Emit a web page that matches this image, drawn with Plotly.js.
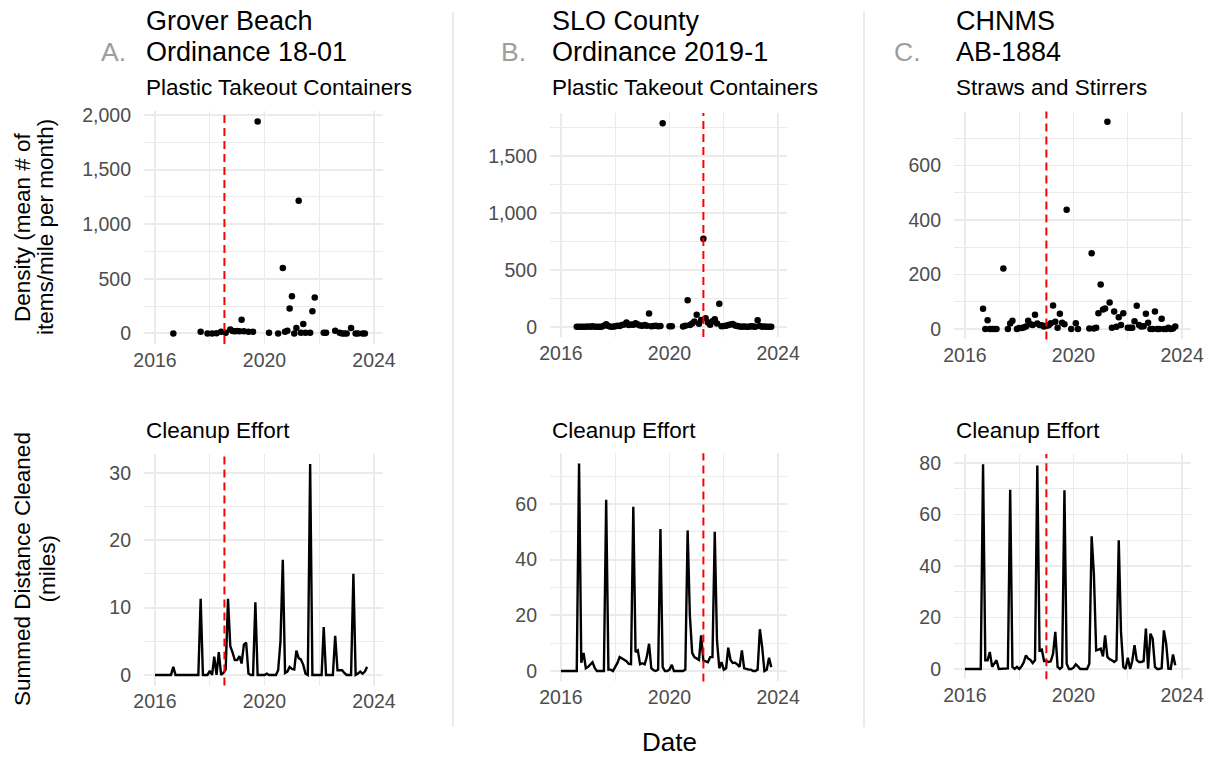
<!DOCTYPE html>
<html>
<head>
<meta charset="utf-8">
<script src="https://cdn.plot.ly/plotly-3.0.1.min.js"></script>
<style>html,body{margin:0;padding:0;background:#fff;}#chart{width:1211px;height:758px;}</style>
</head>
<body>
<div id="chart"></div>
<script>
// ---------- DATA ----------
const months = [
"2016-01","2016-02","2016-03","2016-04","2016-05","2016-06","2016-07","2016-08","2016-09","2016-10","2016-11","2016-12",
"2017-01","2017-02","2017-03","2017-04","2017-05","2017-06","2017-07","2017-08","2017-09","2017-10","2017-11","2017-12",
"2018-01","2018-02","2018-03","2018-04","2018-05","2018-06","2018-07","2018-08","2018-09","2018-10","2018-11","2018-12",
"2019-01","2019-02","2019-03","2019-04","2019-05","2019-06","2019-07","2019-08","2019-09","2019-10","2019-11","2019-12",
"2020-01","2020-02","2020-03","2020-04","2020-05","2020-06","2020-07","2020-08","2020-09","2020-10","2020-11","2020-12",
"2021-01","2021-02","2021-03","2021-04","2021-05","2021-06","2021-07","2021-08","2021-09","2021-10","2021-11","2021-12",
"2022-01","2022-02","2022-03","2022-04","2022-05","2022-06","2022-07","2022-08","2022-09","2022-10","2022-11","2022-12",
"2023-01","2023-02","2023-03","2023-04","2023-05","2023-06","2023-07","2023-08","2023-09","2023-10"
];

// Density (mean # of items/mile per month)
const densityA = [
null,null,null,null,null,null,null,null,0,null,
null,null,null,null,null,null,null,null,null,null,
15,null,null,0,null,0,null,2,null,15,
null,5,null,35,22,20,22,20,125,20,
null,15,null,15,null,1940,null,null,null,null,
5,null,null,null,0,null,600,15,25,227,
340,0,49,1215,5,86,5,null,5,202,
328,null,null,null,5,5,null,null,null,25,
null,5,0,0,0,null,50,null,0,0,
null,0,0,null
];
const densityB = [
null,null,null,null,null,null,null,0,0,0,
0,0,2,0,5,0,0,0,0,10,
23,8,0,0,5,10,8,15,20,38,
15,20,18,32,20,12,10,15,10,117,
5,8,10,5,8,1790,null,null,5,5,
null,null,null,null,2,10,234,17,30,47,
105,26,60,775,76,38,18,50,67,30,
202,5,8,10,15,20,25,12,8,2,
0,2,0,0,5,2,0,58,8,0,
2,0,0,0
];
const densityC = [
null,null,null,null,null,null,null,null,74,0,
32,0,0,0,0,null,null,222,null,0,
20,30,null,0,4,4,6,9,30,18,
15,52,20,15,14,9,12,14,21,86,
27,5,56,23,18,438,null,0,null,21,
0,null,null,null,null,2,278,2,5,58,
163,72,75,760,97,5,64,8,43,15,
58,null,5,5,5,29,85,15,9,10,
56,23,0,0,64,0,0,38,0,0,
5,0,2,9
];

// Summed distance cleaned (miles)
const cleanupA = [
0,0,0,0,0,0,0,0,1.2,0,
0,0,0,0,0,0,0,0,0,0,
11.3,0,0,0,0.6,0,2.7,0,3.4,0,
0.3,0.8,11.3,4.3,3.3,2.2,2.2,2.8,1.7,4.5,
4.8,0.2,0,0,10.8,0,0,0,0,0.2,
0,0,0,0,0.7,5,17.1,0.3,0.5,1.2,
0.9,0.8,3.6,2.5,2.3,1.5,0.2,0,31.3,0,
0,0,0,0,7.1,0,0,0,0,5.8,
0.7,0.7,0.7,0.3,0,0,0,15,0,0.2,
0.5,0.2,0.5,1.2
];
const cleanupB = [
0,0,0,0,0,0,0,0,74.5,3,
6.5,1,1.5,2.6,3.2,1,0,0,0,0,
61.5,0.5,0.5,0,1.5,3,5,4.5,4.3,3.5,
2.6,2.5,59,6.8,7.4,2.4,2.8,2.4,5,9.8,
1,0.3,0,0.5,51,1.4,0,0,0.5,2.2,
0,0,0,0,0,0.5,50.5,20,6.5,5,
4.4,4,12.8,3.8,3.5,3.2,5,5,50,11,
1,3.2,0.5,1,8.4,4,2.9,3,2.4,1.5,
7.4,1,0.8,0.5,0.5,0,0,0.5,15,8.6,
0,0.5,4.8,1.4
];
const cleanupC = [
0,0,0,0,0,0,0,0,79.5,3.4,
3.4,6.6,0.8,2,3.4,0,0,0,0,0.2,
69.6,0.8,0,0.8,0,1,2.5,5.3,4,3.5,
2.3,3.4,79,7.2,7.5,3.1,3.1,2.7,3,6,
14.4,0.8,0,0.8,69.4,2,0,0,0.5,1.8,
1,0,0,0,0,2,51.5,37,7.2,7.5,
7.9,4.9,13,4.7,3.8,3.4,2.7,3.4,50,14.4,
0.8,0,4.4,0,3,9.2,3.4,2.7,2.7,3,
15.7,0.1,13.7,11.8,0.8,0,0,0.3,15,9.8,
0.1,0,5.6,1.4
];

// Policy dates (red dashed lines)
const policyDates = ["2018-07-15", "2021-04-01", "2019-01-01"];

// Text
const titles1 = ["Grover Beach", "SLO County", "CHNMS"];
const titles2 = ["Ordinance 18-01", "Ordinance 2019-1", "AB-1884"];
const tags = ["A.", "B.", "C."];
const itemLabels = ["Plastic Takeout Containers", "Plastic Takeout Containers", "Straws and Stirrers"];
const effortLabel = "Cleanup Effort";
const yTitleTop = ["Density (mean # of", "items/mile per month)"];
const yTitleBottom = ["Summed Distance Cleaned", "(miles)"];
const xTitle = "Date";

// ---------- LAYOUT ----------
const W = 1211, H = 758;
const FONT = "Liberation Sans, Arial, Helvetica, sans-serif";
const GRID = "#EBEBEB";
const TICKC = "#4D4D4D";

// pixel geometry of panels: [left, right, top, bottom]
const panels = [
  [144, 383, 111, 344], [550, 787, 113, 337], [954, 1191, 111.5, 339.4],
  [144, 383, 453.5, 685.5], [550, 787, 453.2, 681.4], [954, 1191, 454, 679.2]
];
const yRanges = [[-97, 2037], [-89.5, 1879.5], [-38, 798], [-1.565, 32.865], [-3.725, 78.225], [-3.975, 83.475]];
const yDticks = [500, 500, 200, 10, 20, 20];

function xAx(p, anchor) {
  return {
    domain: [p[0] / W, p[1] / W], anchor: anchor, type: 'date',
    range: ['2015-08-07', '2024-04-30'], tick0: '2016-01-01', dtick: 'M48', tickformat: '%Y',
    showgrid: true, gridcolor: GRID, gridwidth: 1.9,
    minor: {tick0: '2016-01-01', dtick: 'M24', showgrid: true, gridcolor: GRID, gridwidth: 1},
    zeroline: false, showline: false, ticks: '', ticklabelstandoff: 2,
    tickfont: {size: 19.5, color: TICKC, family: FONT}, fixedrange: true, automargin: false
  };
}
function yAx(p, anchor, range, dtick) {
  return {
    domain: [1 - p[3] / H, 1 - p[2] / H], anchor: anchor, range: range,
    tick0: 0, dtick: dtick, tickformat: ',',
    showgrid: true, gridcolor: GRID, gridwidth: 1.9,
    minor: {tick0: 0, dtick: dtick / 2, showgrid: true, gridcolor: GRID, gridwidth: 1},
    zeroline: false, showline: false, ticks: '', ticklabelstandoff: 12,
    tickfont: {size: 19.5, color: TICKC, family: FONT}, fixedrange: true, automargin: false
  };
}

const layout = {
  width: W, height: H, margin: {l: 0, r: 0, t: 0, b: 0},
  paper_bgcolor: '#ffffff', plot_bgcolor: '#ffffff', showlegend: false,
  font: {family: FONT, color: '#000000'},
  shapes: [], annotations: []
};
const axNames = ['', '2', '3', '4', '5', '6'];
for (let k = 0; k < 6; k++) {
  layout['xaxis' + axNames[k]] = xAx(panels[k], 'y' + axNames[k]);
  layout['yaxis' + axNames[k]] = yAx(panels[k], 'x' + axNames[k], yRanges[k], yDticks[k]);
}

// ---------- TRACES ----------
const densities = [densityA, densityB, densityC];
const cleanups = [cleanupA, cleanupB, cleanupC];
const data = [];
for (let k = 0; k < 3; k++) {
  data.push({type: 'scatter', mode: 'markers', x: months, y: densities[k],
    xaxis: 'x' + axNames[k], yaxis: 'y' + axNames[k],
    marker: {color: '#000000', size: 6.5}, hoverinfo: 'skip'});
  data.push({type: 'scatter', mode: 'lines', x: months, y: cleanups[k],
    xaxis: 'x' + axNames[k + 3], yaxis: 'y' + axNames[k + 3],
    line: {color: '#000000', width: 2.4}, hoverinfo: 'skip'});
}

// red dashed policy lines
for (let k = 0; k < 6; k++) {
  const xa = 'x' + axNames[k];
  layout.shapes.push({type: 'line', xref: xa, yref: 'y' + axNames[k] + ' domain',
    x0: policyDates[k % 3], x1: policyDates[k % 3], y0: 0, y1: 1,
    line: {color: '#FF0000', width: 2, dash: '8px,5px'}});
}
// separators
[453, 864].forEach(function (px) {
  layout.shapes.push({type: 'line', xref: 'paper', yref: 'paper',
    x0: px / W, x1: px / W, y0: 1 - 12 / H, y1: 1 - 727 / H,
    line: {color: '#E3E3E3', width: 1.5}});
});

function ann(text, xpx, ypx, size, color, xanchor, angle) {
  layout.annotations.push({text: text, xref: 'paper', yref: 'paper',
    x: xpx / W, y: 1 - ypx / H, xanchor: xanchor || 'left', yanchor: 'middle',
    showarrow: false, textangle: angle || 0, borderpad: 0,
    font: {family: FONT, size: size, color: color || '#000000'}});
}
const tagX = [100, 500, 893];
for (let k = 0; k < 3; k++) {
  const lx = panels[k][0] + 1;
  ann(titles1[k], lx, 21.5, 27);
  ann(titles2[k], lx, 52.5, 27);
  ann(tags[k], tagX[k], 52.5, 26.5, '#9E9E9E');
  ann(itemLabels[k], lx, 87.5, 22.5);
  ann(effortLabel, lx, 430, 22.5);
}
ann(yTitleTop[0], 22, 227, 22.5, '#000000', 'center', -90);
ann(yTitleTop[1], 45, 227, 22.5, '#000000', 'center', -90);
ann(yTitleBottom[0], 22, 569, 22.5, '#000000', 'center', -90);
ann(yTitleBottom[1], 46.5, 569, 22.5, '#000000', 'center', -90);
ann(xTitle, 669, 742, 26, '#000000', 'center');

Plotly.newPlot('chart', data, layout, {staticPlot: true, displayModeBar: false});
</script>
</body>
</html>
